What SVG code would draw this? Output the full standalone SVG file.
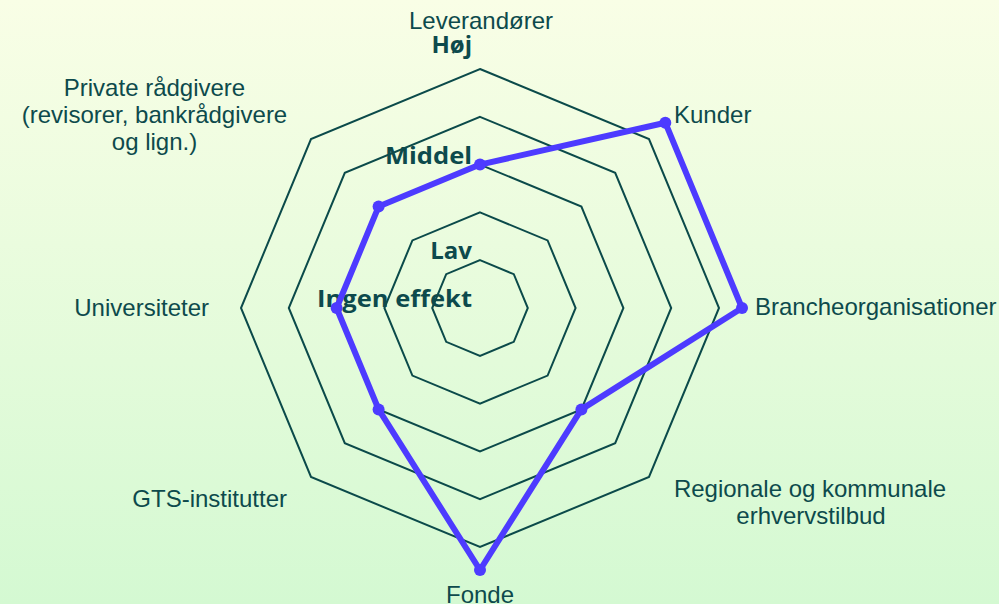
<svg xmlns="http://www.w3.org/2000/svg" width="999" height="604" viewBox="0 0 999 604">
  <defs>
    <linearGradient id="bg" x1="0" y1="0" x2="0" y2="1">
      <stop offset="0" stop-color="#f9fee6"/>
      <stop offset="1" stop-color="#d4f9d2"/>
    </linearGradient>
  </defs>
  <style>
    .ring { fill: none; stroke: #0b4a4a; stroke-width: 2; stroke-linejoin: miter; }
    .series { fill: none; stroke: #4d3bff; stroke-width: 6; stroke-linejoin: round; }
    .dot { fill: #4d3bff; }
    .cat { font-family: "Liberation Sans", Arial, sans-serif; font-size: 24px; fill: #0d4a4c; }
    .lvl { font-family: "Open Sans", "Liberation Sans", Arial, sans-serif; font-size: 24px; font-weight: bold; fill: #0d4a4c; text-anchor: end; }
  </style>

  <rect x="0" y="0" width="999" height="604" fill="url(#bg)"/>

  <!-- radar grid: five concentric octagons around (480,308) -->
  <g id="grid">
    <polygon class="ring" points="480,260.2 513.8,274.2 527.8,308 513.8,341.8 480,355.8 446.2,341.8 432.2,308 446.2,274.2"/>
    <polygon class="ring" points="480,212.4 547.6,240.4 575.6,308 547.6,375.6 480,403.6 412.4,375.6 384.4,308 412.4,240.4"/>
    <polygon class="ring" points="480,164.6 581.4,206.6 623.4,308 581.4,409.4 480,451.4 378.6,409.4 336.6,308 378.6,206.6"/>
    <polygon class="ring" points="480,116.8 615.2,172.8 671.2,308 615.2,443.2 480,499.2 344.8,443.2 288.8,308 344.8,172.8"/>
    <polygon class="ring" points="480,69 649,139 719,308 649,477 480,547 311,477 241,308 311,139"/>
  </g>

  <!-- scale labels -->
  <g id="levels">
    <text class="lvl" x="472" y="53">Høj</text>
    <text class="lvl" x="472" y="164" textLength="87" lengthAdjust="spacingAndGlyphs">Middel</text>
    <text class="lvl" x="472" y="259">Lav</text>
    <text class="lvl" x="472" y="307" textLength="155" lengthAdjust="spacingAndGlyphs">Ingen effekt</text>
  </g>

  <!-- data series -->
  <g id="connectors">
    <polygon class="series" points="480,164.6 665.3,122.7 742,308 581.4,409.4 480,570 378.6,409.4 336.6,308 378.6,206.6"/>
  </g>

  <g id="node-leverandorer">
    <circle class="dot" cx="480" cy="164.6" r="6"/>
    <text class="cat" x="481" y="29" text-anchor="middle">Leverandører</text>
  </g>
  <g id="node-kunder">
    <circle class="dot" cx="665.3" cy="122.7" r="6"/>
    <text class="cat" x="674" y="123">Kunder</text>
  </g>
  <g id="node-branche">
    <circle class="dot" cx="742" cy="308" r="6"/>
    <text class="cat" x="755" y="315">Brancheorganisationer</text>
  </g>
  <g id="node-regionale">
    <circle class="dot" cx="581.4" cy="409.4" r="6"/>
    <text class="cat" x="810" y="497" text-anchor="middle">Regionale og kommunale</text>
    <text class="cat" x="811" y="524" text-anchor="middle">erhvervstilbud</text>
  </g>
  <g id="node-fonde">
    <circle class="dot" cx="480" cy="570" r="6"/>
    <text class="cat" x="480" y="603" text-anchor="middle">Fonde</text>
  </g>
  <g id="node-gts">
    <circle class="dot" cx="378.6" cy="409.4" r="6"/>
    <text class="cat" x="287" y="507" text-anchor="end">GTS-institutter</text>
  </g>
  <g id="node-universiteter">
    <circle class="dot" cx="336.6" cy="308" r="6"/>
    <text class="cat" x="209" y="316" text-anchor="end">Universiteter</text>
  </g>
  <g id="node-private">
    <circle class="dot" cx="378.6" cy="206.6" r="6"/>
    <text class="cat" x="154.5" y="96" text-anchor="middle">Private rådgivere</text>
    <text class="cat" x="154.5" y="123" text-anchor="middle">(revisorer, bankrådgivere</text>
    <text class="cat" x="154.5" y="150" text-anchor="middle">og lign.)</text>
  </g>
</svg>
